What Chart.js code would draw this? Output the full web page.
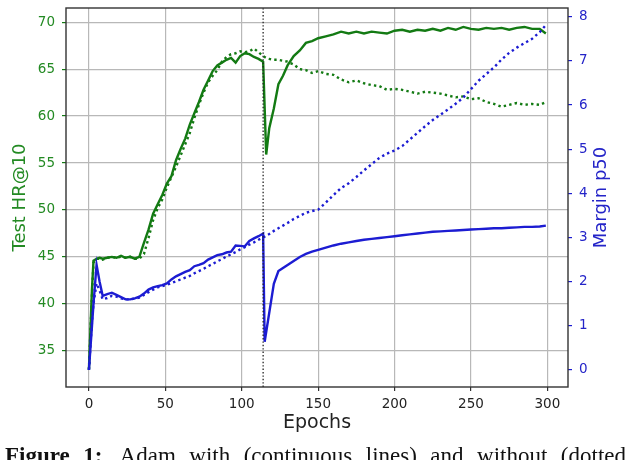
<!DOCTYPE html>
<html>
<head>
<meta charset="utf-8">
<script src="https://cdn.jsdelivr.net/npm/chart.js@4/dist/chart.umd.min.js"></script>
<style>
  html, body { margin: 0; padding: 0; background: #fff; overflow: hidden; }
  #wrap { position: relative; width: 626px; height: 460px; }
  #caption {
    position: absolute; left: 5px; top: 444px; width: 621px; height: 26px;
    font-family: "Liberation Serif", "Times New Roman", serif; font-size: 23px;
    line-height: 1; color: #111; text-align: justify; text-align-last: justify;
    overflow: hidden;
  }
  #caption b { font-weight: bold; margin-right: 5px; }
</style>
</head>
<body>
<div id="wrap">
  <canvas id="chart" width="626" height="460"></canvas>
  <div id="caption"><b>Figure 1:</b> Adam with (continuous lines) and without (dotted</div>
</div>
<script>
const epochs = [
  0, 2, 3, 5, 7, 9,
  12, 15, 18, 21, 24, 27, 30, 33, 36, 39,
  42, 45, 48, 51, 54, 57, 60, 63, 66, 69,
  72, 75, 78, 81, 84, 87, 90, 93, 96, 99,
  102, 105, 108, 111, 114, 115, 116, 118, 121, 124,
  127, 130, 134, 138, 142, 146, 150, 155, 160, 165,
  170, 175, 180, 185, 190, 195, 200, 205, 210, 215,
  220, 225, 230, 235, 240, 245, 250, 255, 260, 265,
  270, 275, 280, 285, 290, 295, 299,
];

// Test HR@10, with Adam (solid) and without (dotted)
const hrAdam = [
  33.0, 41.6, 44.6, 44.8, 44.9, 44.8,
  44.9, 45.0, 44.9, 45.1, 44.9, 45.0, 44.8, 45.0, 46.5, 47.9,
  49.6, 50.6, 51.6, 52.8, 53.6, 55.3, 56.5, 57.6, 59.1, 60.3,
  61.5, 62.8, 63.8, 64.8, 65.4, 65.7, 66.0, 66.2, 65.7, 66.4,
  66.7, 66.6, 66.3, 66.1, 65.8, null, 55.9, 58.7, 60.8, 63.4,
  64.3, 65.4, 66.4, 67.0, 67.8, 68.0, 68.3, 68.5, 68.7, 69.0,
  68.8, 69.0, 68.8, 69.0, 68.9, 68.8, 69.1, 69.2, 69.0, 69.2,
  69.1, 69.3, 69.1, 69.4, 69.2, 69.5, 69.3, 69.2, 69.4, 69.3,
  69.4, 69.2, 69.4, 69.5, 69.3, 69.3, 68.8,
];
const hrPlain = [
  33.0, 41.0, 44.4, 44.8, 44.8, 44.7,
  44.9, 45.0, 44.9, 45.0, 44.9, 45.0, 44.8, 44.8, 45.3, 47.0,
  48.9, 50.2, 51.1, 52.4, 53.5, 54.6, 55.8, 57.0, 58.2, 59.8,
  61.2, 62.5, 63.6, 64.3, 64.9, 65.8, 66.3, 66.6, 66.7, 66.9,
  66.8, 66.9, 67.2, 66.8, 66.4, 66.3, 66.2, 66.1, 66.0, 66.0,
  65.9, 65.8, 65.5, 65.0, 64.9, 64.6, 64.8, 64.5, 64.4, 63.9,
  63.6, 63.8, 63.5, 63.3, 63.2, 62.8, 62.9, 62.8, 62.6, 62.4,
  62.6, 62.5, 62.4, 62.2, 62.0, 62.1, 61.8, 61.9, 61.5, 61.3,
  61.0, 61.2, 61.4, 61.2, 61.3, 61.2, 61.5,
];

// Margin p50, with Adam (solid) and without (dotted)
const marginAdam = [
  0.0, 1.0, 1.5, 2.38, 2.0, 1.68,
  1.72, 1.75, 1.70, 1.65, 1.60, 1.60, 1.62, 1.66, 1.73, 1.82,
  1.87, 1.90, 1.92, 1.96, 2.05, 2.12, 2.17, 2.22, 2.26, 2.35,
  2.38, 2.42, 2.50, 2.55, 2.60, 2.62, 2.66, 2.68, 2.82, 2.81,
  2.80, 2.92, 2.98, 3.03, 3.09, 0.64, null, null, 1.95, 2.24,
  2.31, 2.38, 2.47, 2.56, 2.63, 2.68, 2.72, 2.77, 2.82, 2.86,
  2.89, 2.92, 2.95, 2.97, 2.99, 3.01, 3.03, 3.05, 3.07, 3.09,
  3.11, 3.13, 3.14, 3.15, 3.16, 3.17, 3.18, 3.19, 3.20, 3.21,
  3.21, 3.22, 3.23, 3.24, 3.24, 3.25, 3.27,
];
const marginPlain = [
  0.0, 1.1, 1.5, 1.96, 1.80, 1.60,
  1.63, 1.68, 1.66, 1.62, 1.60, 1.60, 1.62, 1.64, 1.70, 1.76,
  1.82, 1.87, 1.90, 1.93, 1.97, 2.01, 2.05, 2.09, 2.13, 2.19,
  2.24, 2.29, 2.35, 2.40, 2.46, 2.51, 2.57, 2.62, 2.67, 2.73,
  2.78, 2.84, 2.89, 2.95, 3.00, 3.02, 3.04, 3.08, 3.15, 3.21,
  3.27, 3.33, 3.42, 3.49, 3.56, 3.60, 3.63, 3.79, 3.96, 4.12,
  4.23, 4.37, 4.52, 4.66, 4.80, 4.90, 4.97, 5.07, 5.22, 5.37,
  5.52, 5.66, 5.78, 5.90, 6.03, 6.17, 6.36, 6.55, 6.70, 6.85,
  7.03, 7.18, 7.30, 7.40, 7.50, 7.65, 7.81,
];

const switchEpoch = 114;

const epochTicks = [0, 50, 100, 150, 200, 250, 300];
const hrTicks = [35, 40, 45, 50, 55, 60, 65, 70];
const marginTicks = [0, 1, 2, 3, 4, 5, 6, 7, 8];

const X_MIN = -15, X_MAX = 313.5;
const HR_MIN = 31.13, HR_MAX = 71.52;
const MARGIN_MIN = -0.385, MARGIN_MAX = 8.197;

const GREEN = "#137a13";
const GREEN_TEXT = "#238a23";
const BLUE = "#1c1cd2";
const BLUE_TEXT = "#2424c8";
const FONT = "DejaVu Sans";

const toPoints = (values) => epochs.map((x, i) => ({ x, y: values[i] }));

const fixTicks = (list) => (axis) => {
  axis.ticks = list.map((value) => ({ value }));
};

const framePlugin = {
  id: "frame",
  afterDatasetsDraw(chart) {
    const { ctx, chartArea: a } = chart;
    ctx.save();
    ctx.strokeStyle = "#333";
    ctx.lineWidth = 1.4;
    ctx.strokeRect(a.left, a.top, a.right - a.left, a.bottom - a.top);
    ctx.restore();
  },
};

// matplotlib writes the twin-axis label bottom-to-top, Chart.js does the opposite
const rightTitlePlugin = {
  id: "rightTitle",
  afterDraw(chart) {
    const { ctx, chartArea: a } = chart;
    ctx.save();
    ctx.translate(chart.width - 24.3, (a.top + a.bottom) / 2);
    ctx.rotate(-Math.PI / 2);
    ctx.font = `18px "${FONT}"`;
    ctx.fillStyle = BLUE_TEXT;
    ctx.textAlign = "center";
    ctx.textBaseline = "middle";
    ctx.fillText("Margin p50", 0, 0);
    ctx.restore();
  },
};

const lineSet = (label, values, color, axis, dotted) => ({
  label,
  data: toPoints(values),
  yAxisID: axis,
  borderColor: color,
  borderWidth: 2.4,
  borderDash: dotted ? [2.4, 3.2] : [],
  pointRadius: 0,
  tension: 0,
  spanGaps: true,
  fill: false,
});

new Chart(document.getElementById("chart"), {
  type: "line",
  data: {
    datasets: [
      {
        label: "switch",
        data: [{ x: switchEpoch, y: HR_MIN }, { x: switchEpoch, y: HR_MAX }],
        yAxisID: "y",
        borderColor: "#222",
        borderWidth: 1.3,
        borderDash: [1.4, 2],
        pointRadius: 0,
      },
      lineSet("Margin (Adam)", marginAdam, BLUE, "y1", false),
      lineSet("Margin (no Adam)", marginPlain, BLUE, "y1", true),
      lineSet("HR@10 (Adam)", hrAdam, GREEN, "y", false),
      lineSet("HR@10 (no Adam)", hrPlain, GREEN, "y", true),
    ],
  },
  options: {
    responsive: false,
    animation: false,
    layout: { padding: { top: 8, left: 0, right: 0, bottom: 0 } },
    plugins: { legend: { display: false }, tooltip: { enabled: false } },
    scales: {
      x: {
        type: "linear",
        min: X_MIN,
        max: X_MAX,
        afterBuildTicks: fixTicks(epochTicks),
        afterFit: (axis) => {
          axis.height = 73;
          axis.paddingLeft = 0;
          axis.paddingRight = 0;
        },
        border: { display: false },
        grid: { color: "#b8b8b8", lineWidth: 1.2, tickColor: "#333", tickLength: 4 },
        ticks: {
          color: "#222",
          font: { family: FONT, size: 13.5 },
          padding: 5,
          maxRotation: 0,
          autoSkip: false,
        },
        title: {
          display: true,
          text: "Epochs",
          color: "#222",
          font: { family: FONT, size: 19 },
          padding: { top: 0, bottom: 26 },
        },
      },
      y: {
        position: "left",
        min: HR_MIN,
        max: HR_MAX,
        afterBuildTicks: fixTicks(hrTicks),
        afterFit: (axis) => {
          axis.width = 66;
          axis.paddingTop = 0;
          axis.paddingBottom = 0;
        },
        border: { display: false },
        grid: { color: "#b8b8b8", lineWidth: 1.2, tickColor: GREEN, tickLength: 4 },
        ticks: {
          color: GREEN_TEXT,
          font: { family: FONT, size: 13.5 },
          padding: 7,
          autoSkip: false,
        },
        title: {
          display: true,
          text: "Test HR@10",
          color: GREEN_TEXT,
          font: { family: FONT, size: 18 },
          padding: { top: 10, bottom: 0 },
        },
      },
      y1: {
        position: "right",
        min: MARGIN_MIN,
        max: MARGIN_MAX,
        afterBuildTicks: fixTicks(marginTicks),
        afterFit: (axis) => {
          axis.width = 58;
          axis.paddingTop = 0;
          axis.paddingBottom = 0;
        },
        border: { display: false },
        grid: { drawOnChartArea: false, tickColor: BLUE, tickLength: 4, lineWidth: 1.2 },
        ticks: {
          color: BLUE_TEXT,
          font: { family: FONT, size: 13.5 },
          padding: 7,
          autoSkip: false,
        },
        title: { display: false },
      },
    },
  },
  plugins: [framePlugin, rightTitlePlugin],
});
</script>
</body>
</html>
